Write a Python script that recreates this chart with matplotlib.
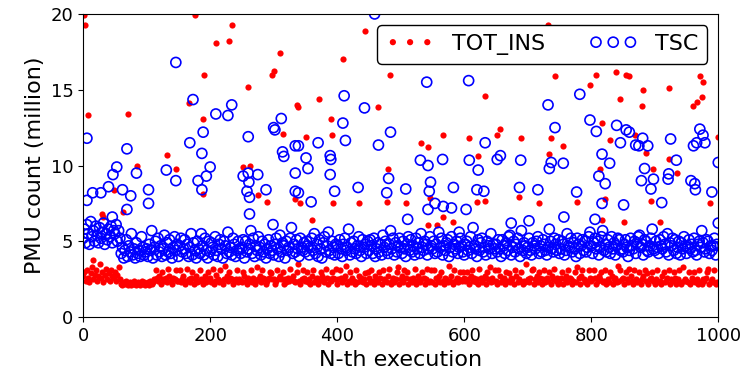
import numpy as np
import matplotlib
matplotlib.use('Agg')
import matplotlib.pyplot as plt

# dense band, one reading every 2nd execution, in tenths of a million
ins_band_tenths = [
    27,30,24,31,26,23,29,33,25,28,31,24,27,35,26,30,23,28,32,25,29,24,31,27,26,
    30,24,28,33,25,22,21,23,22,24,21,22,23,21,22,24,22,21,23,22,21,24,22,23,21,
    22,23,21,24,22,23,25,31,26,24,27,22,30,25,24,26,23,32,27,24,22,26,25,31,24,
    24,31,23,25,27,22,24,32,25,23,26,30,22,25,27,23,24,31,25,22,24,27,23,30,25,
    26,23,32,22,24,28,25,23,31,24,22,25,34,27,24,30,26,25,22,24,25,31,23,25,24,
    23,30,27,24,22,26,24,31,23,26,22,24,33,25,27,23,31,26,25,22,24,26,30,29,25,
    25,22,24,31,26,27,25,30,22,25,23,26,24,32,25,27,24,23,30,35,24,22,25,31,26,
    24,30,23,25,22,27,31,23,25,26,22,24,30,27,25,23,32,26,22,25,24,30,26,25,32,
    22,25,31,26,23,25,27,34,22,24,30,23,26,24,22,31,23,27,24,26,23,25,29,22,30,
    26,23,31,24,22,27,25,23,30,26,22,31,25,24,23,27,32,22,24,26,23,25,30,33,22,
    25,27,23,31,26,30,22,25,24,23,26,32,22,24,27,23,25,30,26,22,25,32,23,24,31,
    23,31,22,26,24,27,23,30,24,22,26,25,23,34,24,27,22,31,24,26,23,25,30,24,30,
    26,24,30,25,22,27,31,24,26,23,25,22,32,26,23,25,27,22,30,25,33,23,26,24,31,
    24,22,31,27,23,24,26,22,30,24,29,23,26,25,22,31,27,23,25,24,30,22,24,23,35,
    25,23,26,31,32,22,25,27,23,30,26,22,25,31,23,26,24,30,22,27,25,32,24,26,22,
    23,26,30,22,25,27,23,31,26,25,22,24,30,23,33,26,22,27,31,25,23,24,22,31,26,
    24,25,31,26,22,24,27,25,30,23,24,31,22,25,23,30,27,22,25,26,23,34,24,31,25,
    26,22,30,25,23,32,27,24,22,31,25,23,24,30,22,25,27,31,24,29,22,25,26,30,24,
    22,25,31,23,24,22,27,30,23,24,26,31,22,25,24,30,26,22,25,31,23,22,33,24,25,
    24,23,30,22,26,24,30,23,25,22,31,23,22,25,24,26,30,32,22,24,25,23,31,22,23,
]

tsc_band_tenths = [
    52,58,49,61,55,48,63,53,57,50,60,54,49,59,52,56,62,48,55,51,58,53,60,49,57,
    55,61,50,57,52,42,46,39,44,51,40,47,43,55,41,45,39,49,42,44,40,53,46,41,43,
    45,40,48,44,57,39,46,50,41,52,43,47,40,45,54,41,49,43,51,42,39,46,53,44,48,
    40,47,52,43,45,51,42,48,40,46,55,41,49,44,39,50,45,42,55,47,41,52,44,39,50,
    43,49,46,41,53,44,40,48,51,45,39,50,47,42,56,43,46,41,52,48,40,44,50,45,42,
    46,51,39,50,43,45,48,57,42,52,40,47,44,53,46,41,50,43,48,39,45,51,42,47,44,
    41,48,52,45,40,54,43,49,47,39,50,44,46,52,59,42,48,43,51,45,40,52,46,44,49,
    43,50,47,41,46,52,44,55,42,48,40,51,45,39,49,53,43,47,56,44,42,50,46,41,48,
    47,42,51,45,40,48,52,44,46,58,41,49,43,50,45,42,47,53,44,40,51,46,48,42,50,
    44,51,47,42,52,40,45,49,43,48,41,54,46,50,44,42,48,57,45,52,41,49,43,47,52,
    46,42,50,45,40,48,53,44,51,43,47,41,52,45,49,42,55,46,44,50,48,41,45,53,47,
    45,50,42,48,43,56,46,52,41,47,44,49,51,40,46,53,43,48,45,50,42,46,52,47,43,
    41,48,50,44,46,53,42,59,47,45,40,51,44,49,52,43,46,41,50,47,45,55,42,48,45,
    48,43,51,45,40,51,47,42,49,44,53,54,41,46,50,43,48,52,45,40,57,44,49,47,42,
    46,52,44,41,49,47,45,50,53,42,47,43,51,48,44,41,46,58,50,45,43,52,48,44,51,
    42,45,50,48,41,44,55,47,46,52,43,49,45,40,52,48,42,47,51,44,50,43,46,53,56,
    47,42,49,52,45,50,41,46,53,57,44,48,43,51,46,42,53,45,49,41,47,52,51,44,45,
    43,48,51,46,40,44,52,47,45,50,42,49,53,54,46,48,41,51,50,44,43,47,52,58,45,
    44,50,46,42,51,47,45,53,48,43,55,41,49,47,52,44,51,42,46,50,41,49,45,53,47,
    42,46,51,45,48,43,52,44,41,48,50,46,57,49,43,45,51,50,42,47,44,47,52,41,48,
]

# spikes (execution, million)
ins_spike_x = [1, 3, 7, 16, 29, 31, 48, 63, 71, 85, 132, 147, 166, 176, 188, 188,
               190, 210, 229, 235, 252, 260, 263, 276, 289, 297, 300, 310, 314,
               334, 336, 339, 342, 351, 360, 371, 390, 392, 394, 409, 434, 444,
               465, 478, 480, 483, 509, 532, 543, 543, 546, 557, 566, 567, 583,
               607, 620, 622, 632, 633, 652, 657, 686, 689, 717, 732, 734, 736,
               743, 755, 777, 798, 808, 814, 817, 817, 822, 829, 839, 845, 851,
               855, 860, 869, 880, 882, 887, 894, 897, 909, 922, 923, 935, 961,
               966, 971, 974, 976, 987, 1000]
ins_spike_y = [19.9, 19.3, 13.3, 3.75, 6.8, 6.6, 8.4, 6.95, 13.4, 10.0, 10.7, 9.75,
               14.1, 19.95, 8.1, 13.1, 16.0, 18.1, 18.2, 19.25, 9.9, 15.2, 10.0,
               8.05, 7.6, 16.0, 16.25, 17.45, 12.1, 7.8, 14.0, 13.85, 7.5, 11.9,
               6.4, 14.4, 13.1, 12.0, 7.5, 17.0, 7.5, 18.85, 13.85, 7.6, 9.8, 16.0,
               7.5, 11.5, 11.25, 6.1, 7.85, 6.1, 12.0, 6.6, 6.3, 11.8, 7.6, 10.6,
               7.65, 14.6, 12.0, 12.4, 7.9, 11.8, 7.5, 19.3, 10.75, 11.8, 15.9,
               11.3, 7.6, 15.3, 16.0, 9.75, 12.8, 6.4, 7.8, 11.7, 16.15, 14.4, 6.3,
               16.0, 15.9, 12.0, 13.9, 15.0, 10.8, 7.65, 9.8, 6.3, 10.4, 15.1, 9.5,
               13.95, 14.2, 15.9, 14.5, 15.5, 7.5, 11.9]

tsc_spike_x = [6, 6, 15, 28, 40, 46, 47, 53, 62, 69, 69, 75, 84, 103, 103, 131,
               146, 146, 168, 173, 181, 187, 187, 189, 194, 200, 209, 228, 234,
               252, 258, 260, 260, 261, 262, 262, 275, 288, 299, 300, 302, 312,
               314, 316, 334, 339, 334, 334, 339, 351, 354, 359, 370, 389, 390,
               389, 396, 409, 411, 413, 433, 443, 459, 465, 478, 481, 484, 508,
               511, 531, 541, 543, 543, 545, 547, 554, 566, 567, 580, 583, 592,
               603, 607, 608, 620, 622, 631, 633, 652, 657, 674, 687, 689, 702,
               716, 732, 734, 737, 743, 756, 757, 777, 782, 798, 806, 808, 812,
               817, 817, 822, 829, 840, 846, 851, 855, 860, 870, 875, 879, 881,
               884, 889, 894, 898, 911, 921, 922, 925, 934, 957, 961, 963, 964,
               966, 971, 976, 979, 990, 1000, 1000]
tsc_spike_y = [11.8, 7.7, 8.2, 8.2, 8.6, 6.6, 9.4, 9.9, 8.4, 11.1, 7.1, 8.0, 9.5,
               8.4, 7.5, 9.7, 16.8, 9.0, 11.5, 14.35, 9.0, 10.8, 8.4, 12.2, 9.3,
               9.9, 13.4, 13.3, 14.0, 9.3, 8.3, 11.9, 9.5, 8.9, 7.9, 6.8, 9.4, 8.4,
               6.1, 12.5, 12.35, 13.1, 10.9, 10.6, 11.3, 11.3, 9.5, 8.3, 8.2, 10.5,
               9.8, 7.6, 11.5, 10.65, 10.4, 9.4, 8.3, 12.8, 14.6, 11.65, 8.55, 13.8,
               20.0, 11.35, 8.2, 9.15, 12.2, 8.45, 6.45, 10.35, 15.5, 10.0, 7.1,
               8.3, 8.9, 7.5, 10.4, 7.3, 7.2, 8.55, 5.6, 7.1, 15.6, 10.35, 8.4, 9.7,
               8.3, 11.5, 10.4, 10.65, 6.2, 8.55, 10.35, 6.35, 8.4, 14.0, 9.8, 10.2,
               12.5, 10.15, 6.6, 8.25, 14.7, 13.0, 6.45, 12.25, 9.3, 10.75, 7.5,
               8.8, 10.15, 12.65, 11.5, 7.4, 12.35, 12.2, 11.35, 11.3, 9.0, 11.8,
               9.8, 11.3, 8.45, 9.1, 7.55, 9.1, 9.45, 11.75, 10.35, 9.0, 11.3, 8.8,
               8.4, 11.5, 12.4, 12.0, 11.5, 8.25, 10.2, 6.2]


def series(band_tenths, spike_x, spike_y):
    band_x = list(range(0, 2 * len(band_tenths), 2))
    x = np.concatenate([band_x, spike_x])
    y = np.concatenate([np.array(band_tenths) / 10.0, spike_y])
    return x, y


def pmu_chart():
    ins_x, ins_y = series(ins_band_tenths, ins_spike_x, ins_spike_y)
    tsc_x, tsc_y = series(tsc_band_tenths, tsc_spike_x, tsc_spike_y)

    fig = plt.figure(figsize=(7.42, 3.77), dpi=100)
    ax = fig.add_axes([0.112, 0.159, 0.856, 0.804])
    ax.scatter(ins_x, ins_y, s=20, c='red', marker='o', linewidths=0, label='TOT_INS')
    ax.scatter(tsc_x, tsc_y, s=52, facecolors='none', edgecolors='blue',
               linewidths=1.2, marker='o', label='TSC')
    ax.set_xlim(0, 1000)
    ax.set_ylim(0, 20)
    ax.set_xticks([0, 200, 400, 600, 800, 1000])
    ax.set_yticks([0, 5, 10, 15, 20])
    ax.tick_params(labelsize=13)
    ax.set_xlabel('N-th execution', fontsize=16)
    ax.set_ylabel('PMU count (million)', fontsize=16)
    leg = ax.legend(loc='upper right', ncol=2, scatterpoints=3, scatteryoffsets=[0.5],
                    fontsize=16, framealpha=1, edgecolor='black', handlelength=2.15)
    leg.get_frame().set_linewidth(1.0)
    fig.savefig('out.png', dpi=100)


if __name__ == '__main__':
    pmu_chart()
